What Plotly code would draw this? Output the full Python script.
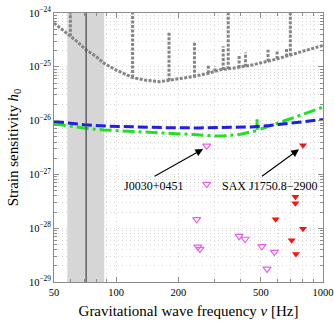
import numpy as np
import plotly.graph_objects as go

# ---------------- data ----------------
# detector noise curve (grey), base values
noise_freq = [50, 55, 60, 65, 71, 80, 87, 100, 120, 140, 163, 200, 236, 280,
              318, 368, 459, 595, 700, 800, 1000]
noise_h = [6.5e-25, 4.8e-25, 3.7e-25, 2.9e-25, 2.1e-25, 1.55e-25, 1.17e-25,
           8.7e-26, 6.3e-26, 5.6e-26, 5.3e-26, 5.9e-26, 6.6e-26, 7.6e-26,
           8.8e-26, 9.4e-26, 1.09e-25, 1.39e-25, 1.67e-25, 1.93e-25, 2.5e-25]
# noise lines (spikes)
spike_freq = [60, 120, 180, 239, 279, 300, 329, 348, 393, 422, 542, 600, 666, 695]
spike_base = [3.7e-25, 6.3e-26, 5.5e-26, 6.4e-26, 7.6e-26, 8.2e-26, 8.7e-26,
              9.0e-26, 9.5e-26, 1.0e-25, 1.25e-25, 1.39e-25, 1.55e-25, 1.6e-25]
spike_top = [3e-24, 3e-24, 4.5e-25, 2.8e-25, 1.1e-25, 1.0e-25, 2.4e-25, 3e-24,
             1.67e-25, 1.85e-25, 2.07e-25, 2.0e-25, 2.2e-25, 3e-24]

# blue dashed sensitivity
blue_freq = [50, 60, 70, 90, 120, 170, 250, 350, 450, 550, 700, 850, 1000]
blue_h = [9.6e-27, 8.9e-27, 8.4e-27, 7.9e-27, 7.6e-27, 7.4e-27, 7.3e-27,
          7.35e-27, 7.6e-27, 8.1e-27, 8.9e-27, 9.7e-27, 1.05e-26]

# green dash-dot sensitivity (with a narrow line at ~480 Hz)
green_freq = [50, 60, 71, 87, 120, 176, 236, 300, 330, 400, 468, 479, 480,
              481, 494, 573, 690, 830, 1000]
green_h = [8.7e-27, 7.9e-27, 7.2e-27, 6.7e-27, 6.3e-27, 6.0e-27, 5.5e-27,
           5.2e-27, 5.2e-27, 5.6e-27, 6.3e-27, 6.5e-27, 1.06e-26, 6.6e-27,
           6.9e-27, 8.3e-27, 1.07e-26, 1.38e-26, 1.78e-26]

# pulsar upper limits (magenta open triangles)
psr_freq = [274, 274, 245, 248, 254, 393, 420, 506, 582, 536]
psr_h = [3.4e-27, 6.6e-28, 1.46e-28, 4.5e-29, 4.1e-29, 7.1e-29, 6.3e-29,
         4.6e-29, 3.6e-29, 1.75e-29]

# LMXB limits (red filled triangles)
lmxb_freq = [800, 735, 735, 590, 800, 705, 740]
lmxb_h = [3.5e-27, 3.85e-28, 2.9e-28, 1.46e-28, 9.75e-29, 6.0e-29, 3.3e-29]

# shaded band and vertical line
band_lo, band_hi = 58, 87.5
vline_freq = 71.5

# ticks
x_ticks = [50, 100, 200, 500, 1000]
x_ticktext = ["50", "100", "200", "500", "1000"]
y_exps = [-29, -28, -27, -26, -25, -24]

# labels: text position (freq, h), arrow head and tail (freq, h)
labels = [
    dict(text="J0030+0451", pos=(151, 6.2e-28), head=(263, 2.97e-27), tail=(150.8, 8.95e-28)),
    dict(text="SAX J1750.8\u22122900", pos=(552, 6.2e-28), head=(765, 2.93e-27), tail=(498.5, 8.83e-28)),
]

# ---------------- figure ----------------
font_family = "Liberation Serif"
grey = "#858585"

fig = go.Figure()

# noise spikes
sx, sy = [], []
for f, b, t in zip(spike_freq, spike_base, spike_top):
    sx += [f, f, None]
    sy += [b, t, None]
fig.add_trace(go.Scatter(x=sx, y=sy, mode="lines",
                         line=dict(color=grey, width=3, dash="3px,1.5px"),
                         hoverinfo="skip", showlegend=False))
fig.add_trace(go.Scatter(x=noise_freq, y=noise_h, mode="lines",
                         line=dict(color=grey, width=3, dash="3px,1.5px"),
                         showlegend=False))

fig.add_trace(go.Scatter(x=green_freq, y=green_h, mode="lines",
                         line=dict(color="#22e022", width=3, dash="12px,4px,3px,4px"),
                         showlegend=False))
fig.add_trace(go.Scatter(x=blue_freq, y=blue_h, mode="lines",
                         line=dict(color="#1f1fe6", width=3, dash="10px,4px"),
                         showlegend=False))

fig.add_trace(go.Scatter(x=psr_freq, y=psr_h, mode="markers",
                         marker=dict(symbol="triangle-down-open", size=7,
                                     color="#e860e8", line=dict(width=1.2)),
                         showlegend=False))
fig.add_trace(go.Scatter(x=lmxb_freq, y=lmxb_h, mode="markers",
                         marker=dict(symbol="triangle-down", size=7,
                                     color="#ff1010"),
                         showlegend=False))

# band + line
fig.add_shape(type="rect", xref="x", yref="paper", x0=band_lo, x1=band_hi,
              y0=0, y1=1, fillcolor="#d6d6d6", line=dict(width=0), layer="below")
fig.add_shape(type="line", xref="x", yref="paper", x0=vline_freq, x1=vline_freq,
              y0=0, y1=1, line=dict(color="#444444", width=1.2), layer="above")

# annotations
for lab in labels:
    fig.add_annotation(x=np.log10(lab["head"][0]), y=np.log10(lab["head"][1]),
                       ax=np.log10(lab["tail"][0]), ay=np.log10(lab["tail"][1]),
                       axref="x", ayref="y", xref="x", yref="y",
                       text="", showarrow=True, arrowhead=2, arrowsize=1.4,
                       arrowwidth=1.1, arrowcolor="black")
    fig.add_annotation(x=np.log10(lab["pos"][0]), y=np.log10(lab["pos"][1]),
                       xref="x", yref="y", text=lab["text"], showarrow=False,
                       font=dict(family=font_family, size=12, color="black"))

minor_x = [60, 70, 80, 90, 300, 400, 600, 700, 800, 900]
minor_y = [m * 10.0 ** e for e in range(-29, -24) for m in range(2, 10)]

gridc = "#d9d9d9"
gdash = "1px,3px"
axis_common = dict(showline=True, linecolor="#8c8c8c", linewidth=1, mirror="ticks",
                   ticks="inside", ticklen=5, tickcolor="#8c8c8c",
                   showgrid=True, gridcolor=gridc, griddash=gdash, gridwidth=1,
                   zeroline=False, automargin=False,
                   tickfont=dict(family=font_family, size=10.5, color="black"))

fig.update_xaxes(type="log", range=[np.log10(50), 3],
                 tickvals=x_ticks, ticktext=x_ticktext,
                 minor=dict(tickvals=minor_x, ticks="inside", ticklen=3,
                            tickcolor="#8c8c8c", showgrid=True, gridcolor=gridc,
                            griddash=gdash),
                 title=dict(text="Gravitational wave frequency <i>\u03bd</i> [Hz]",
                            font=dict(family=font_family, size=15, color="black"),
                            standoff=8),
                 **axis_common)
fig.update_yaxes(type="log", range=[-29, -24],
                 tickvals=[10.0 ** e for e in y_exps],
                 ticktext=["10<sup>\u2212%d</sup>" % (-e) for e in y_exps],
                 minor=dict(tickvals=minor_y, ticks="inside", ticklen=3,
                            tickcolor="#8c8c8c", showgrid=True, gridcolor=gridc,
                            griddash=gdash),
                 title=dict(text="Strain sensitivity <i>h</i><sub>0</sub>",
                            font=dict(family=font_family, size=15, color="black"),
                            standoff=6),
                 **axis_common)

fig.update_layout(width=334, height=324,
                  margin=dict(l=54, r=11, t=13, b=42),
                  paper_bgcolor="white", plot_bgcolor="white",
                  font=dict(family=font_family, color="black"),
                  showlegend=False)

fig.write_html("out.html", config={"displayModeBar": False},
               post_script="document.body.style.margin='0';")
